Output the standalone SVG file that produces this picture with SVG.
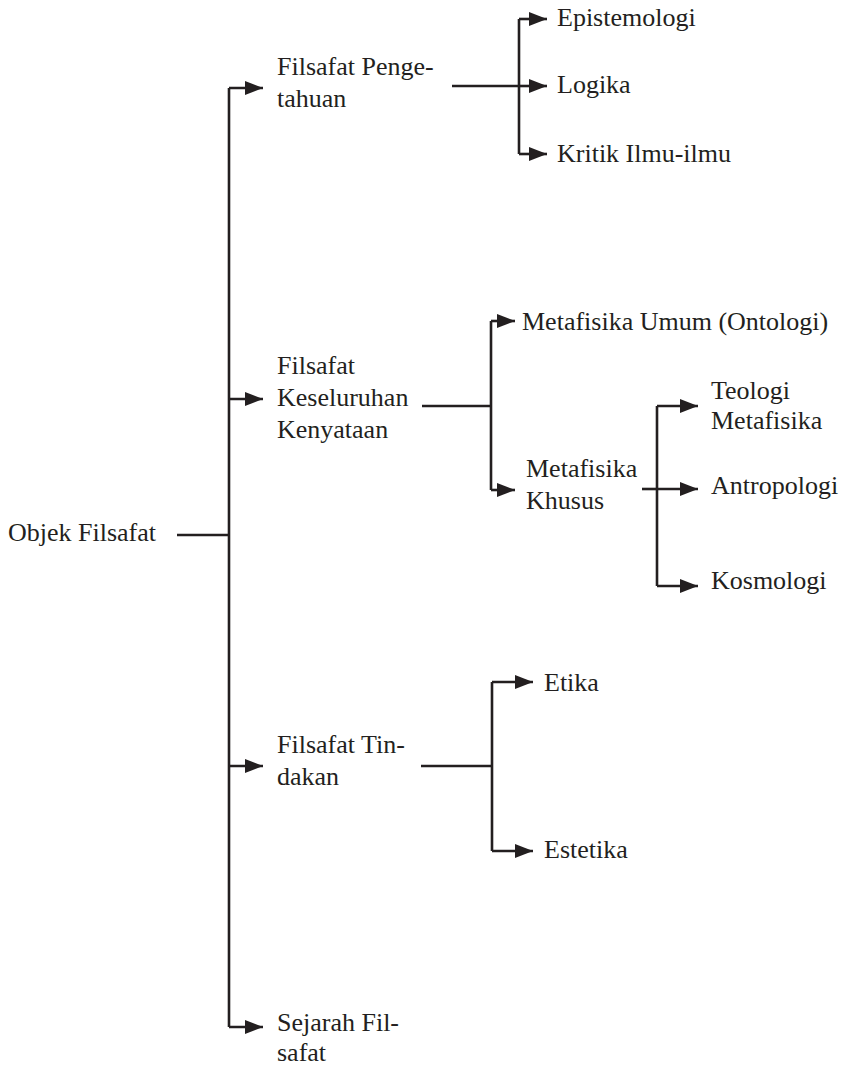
<svg xmlns="http://www.w3.org/2000/svg" width="849" height="1067" viewBox="0 0 849 1067">
<defs>
<marker id="ah" markerUnits="userSpaceOnUse" viewBox="0 0 18 14" markerWidth="18" markerHeight="14" refX="18" refY="7" orient="auto">
<path d="M0,0 L18,7 L0,14 Z" fill="#231f20"/>
</marker>
</defs>
<rect width="849" height="1067" fill="#fff"/>
<g id="connectors" fill="none" stroke="#231f20" stroke-width="2.6">
<path d="M177,535 H229"/>
<path d="M229,88 V1027"/>
<path d="M229,88 H263" marker-end="url(#ah)"/>
<path d="M229,399 H263" marker-end="url(#ah)"/>
<path d="M229,766 H263" marker-end="url(#ah)"/>
<path d="M229,1027 H263" marker-end="url(#ah)"/>
<path d="M452,86 H519"/>
<path d="M519,19 V154"/>
<path d="M519,19 H547" marker-end="url(#ah)"/>
<path d="M519,86 H547" marker-end="url(#ah)"/>
<path d="M519,154 H547" marker-end="url(#ah)"/>
<path d="M422,406 H491"/>
<path d="M491,321 V490"/>
<path d="M491,321 H515" marker-end="url(#ah)"/>
<path d="M491,490 H515" marker-end="url(#ah)"/>
<path d="M642,489 H657"/>
<path d="M657,406 V586"/>
<path d="M657,406 H698" marker-end="url(#ah)"/>
<path d="M657,489 H698" marker-end="url(#ah)"/>
<path d="M657,586 H698" marker-end="url(#ah)"/>
<path d="M421,766 H492"/>
<path d="M492,682 V851"/>
<path d="M492,682 H533" marker-end="url(#ah)"/>
<path d="M492,851 H533" marker-end="url(#ah)"/>
</g>
<g font-family="Liberation Serif, Times New Roman, serif" font-size="26" fill="#231f20">
<g id="objek"><text x="8" y="541">Objek Filsafat</text></g>
<g id="pengetahuan"><text x="277" y="75">Filsafat Penge-</text><text x="277" y="107">tahuan</text></g>
<g id="epistemologi"><text x="557" y="26">Epistemologi</text></g>
<g id="logika"><text x="557" y="93">Logika</text></g>
<g id="kritik"><text x="557" y="162">Kritik Ilmu-ilmu</text></g>
<g id="keseluruhan"><text x="277" y="374">Filsafat</text><text x="277" y="406">Keseluruhan</text><text x="277" y="438">Kenyataan</text></g>
<g id="umum"><text x="522" y="330">Metafisika Umum (Ontologi)</text></g>
<g id="khusus"><text x="526" y="477">Metafisika</text><text x="526" y="509">Khusus</text></g>
<g id="teologi"><text x="711" y="399">Teologi</text><text x="711" y="429">Metafisika</text></g>
<g id="antropologi"><text x="711" y="494">Antropologi</text></g>
<g id="kosmologi"><text x="711" y="589">Kosmologi</text></g>
<g id="tindakan"><text x="277" y="753">Filsafat Tin-</text><text x="277" y="785">dakan</text></g>
<g id="etika"><text x="544" y="691">Etika</text></g>
<g id="estetika"><text x="544" y="858">Estetika</text></g>
<g id="sejarah"><text x="277" y="1031">Sejarah Fil-</text><text x="277" y="1061">safat</text></g>
</g>
</svg>
